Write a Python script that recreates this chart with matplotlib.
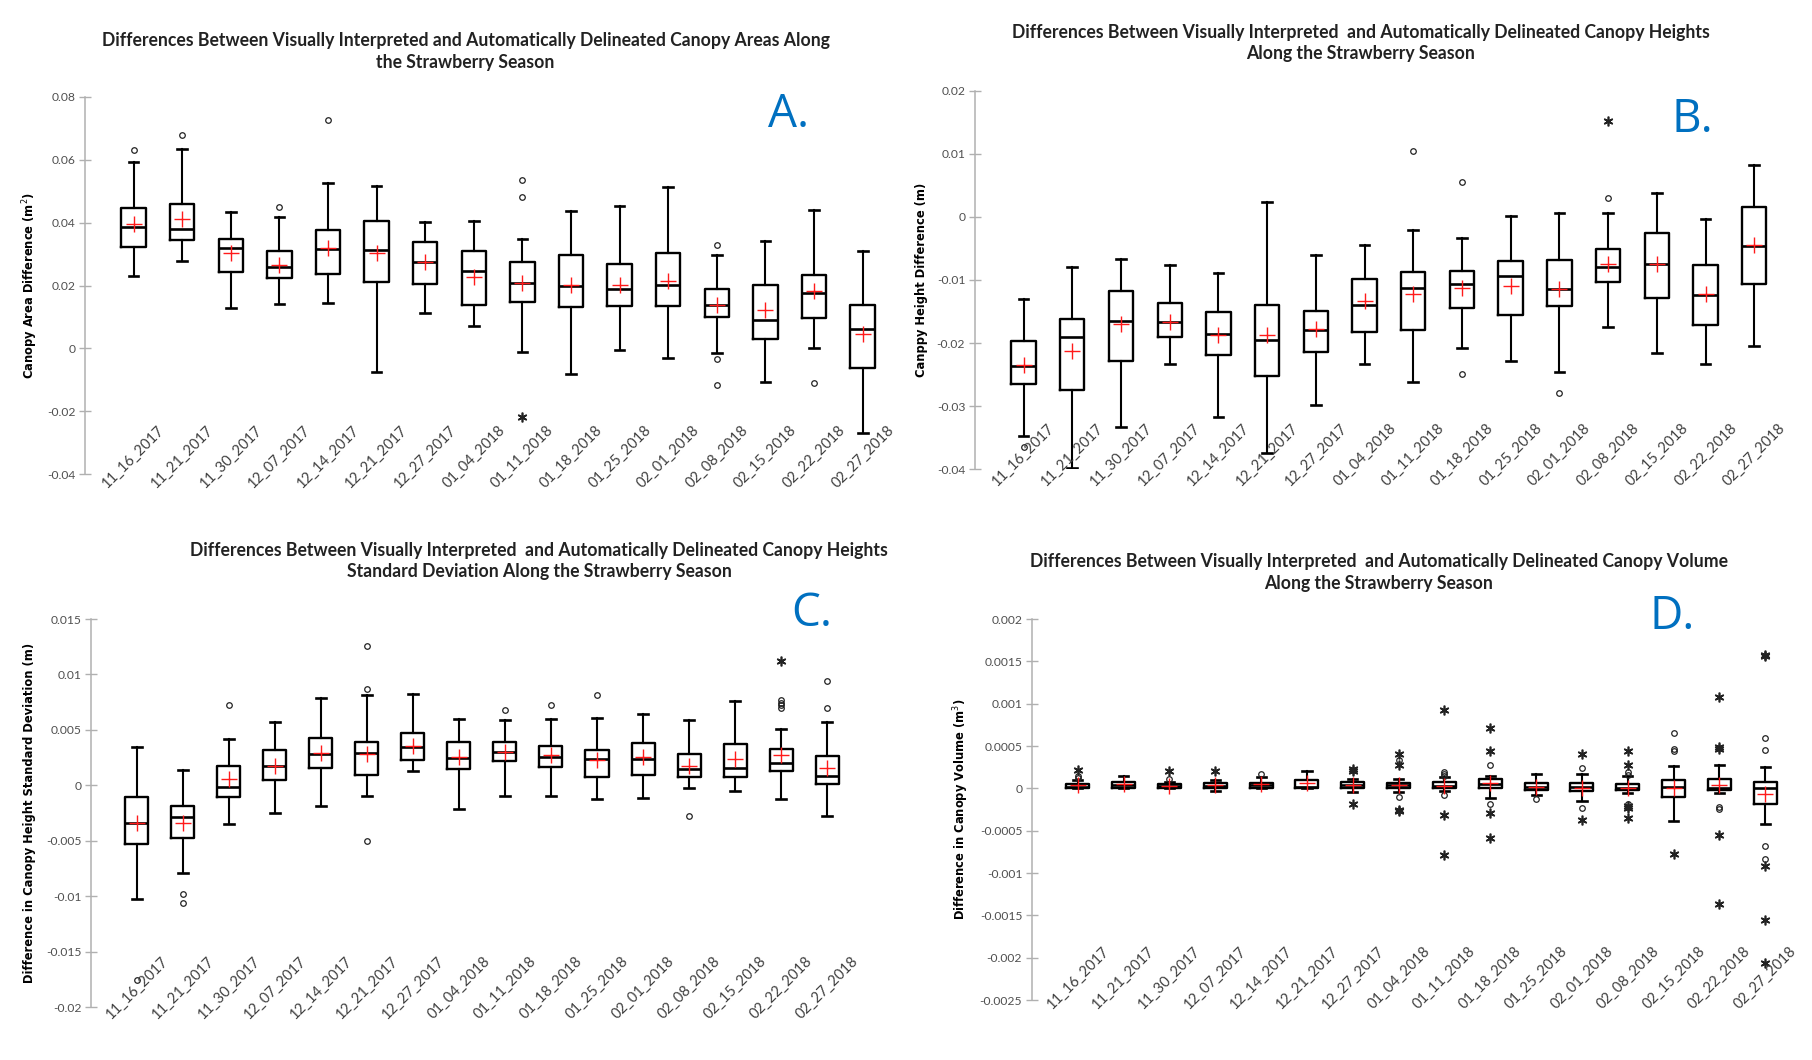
import matplotlib.pyplot as plt
import numpy as np

plt.rcParams['font.family'] = ['Lato', 'DejaVu Sans']

dates = ['11_16_2017', '11_21_2017', '11_30_2017', '12_07_2017', '12_14_2017',
         '12_21_2017', '12_27_2017', '01_04_2018', '01_11_2018', '01_18_2018',
         '01_25_2018', '02_01_2018', '02_08_2018', '02_15_2018', '02_22_2018',
         '02_27_2018']

# A. canopy area difference (m2)
a_low = [0.0230, 0.0278, 0.0128, 0.0141, 0.0143, -0.0074, 0.0113, 0.0071,
         -0.0011, -0.0081, -0.0005, -0.0031, -0.0014, -0.0106, 0.0001, -0.0269]
a_q1 = [0.0322, 0.0344, 0.0242, 0.0225, 0.0238, 0.0212, 0.0206, 0.0138,
        0.0148, 0.0131, 0.0135, 0.0135, 0.0100, 0.0030, 0.0098, -0.0063]
a_med = [0.0386, 0.0379, 0.0319, 0.0258, 0.0316, 0.0312, 0.0274, 0.0246,
         0.0207, 0.0197, 0.0188, 0.0202, 0.0138, 0.0091, 0.0177, 0.0061]
a_q3 = [0.0446, 0.0461, 0.0348, 0.0311, 0.0376, 0.0405, 0.0339, 0.0311,
        0.0274, 0.0296, 0.0268, 0.0303, 0.0188, 0.0201, 0.0233, 0.0138]
a_high = [0.0594, 0.0636, 0.0435, 0.0417, 0.0525, 0.0517, 0.0401, 0.0404,
          0.0348, 0.0438, 0.0453, 0.0514, 0.0297, 0.0342, 0.0440, 0.0311]
a_mean = [0.0397, 0.0412, 0.0302, 0.0266, 0.0320, 0.0302, 0.0274, 0.0227,
          0.0207, 0.0201, 0.0201, 0.0215, 0.0137, 0.0122, 0.0183, 0.0047]
a_out = [[0.0630], [0.0678], [], [0.0450], [0.0728], [], [], [],
         [0.0535, 0.0483], [], [], [], [0.0328, -0.0033, -0.0118], [], [-0.0111], []]
a_ext = [[], [], [], [], [], [], [], [], [-0.0218], [], [], [], [], [], [], []]

# B. canopy height difference (m)
b_low = [-0.0348, -0.0398, -0.0334, -0.0233, -0.0318, -0.0374, -0.0299, -0.0233,
         -0.0262, -0.0208, -0.0229, -0.0246, -0.0175, -0.0216, -0.0234, -0.0204]
b_q1 = [-0.0265, -0.0274, -0.0229, -0.0191, -0.0219, -0.0252, -0.0215, -0.0182,
        -0.0179, -0.0144, -0.0156, -0.0142, -0.0103, -0.0129, -0.0172, -0.0106]
b_med = [-0.0237, -0.0191, -0.0165, -0.0166, -0.0185, -0.0195, -0.0179, -0.0139,
         -0.0113, -0.0106, -0.0094, -0.0115, -0.0080, -0.0074, -0.0124, -0.0046]
b_q3 = [-0.0197, -0.0162, -0.0118, -0.0137, -0.0150, -0.0139, -0.0149, -0.0098,
        -0.0088, -0.0086, -0.0070, -0.0068, -0.0051, -0.0026, -0.0076, 0.0016]
b_high = [-0.0130, -0.0080, -0.0067, -0.0076, -0.0089, 0.0024, -0.0060, -0.0045,
          -0.0021, -0.0033, 0.0001, 0.0006, 0.0007, 0.0038, -0.0003, 0.0083]
b_mean = [-0.0235, -0.0212, -0.0170, -0.0166, -0.0188, -0.0188, -0.0177, -0.0134,
          -0.0122, -0.0112, -0.0110, -0.0114, -0.0074, -0.0075, -0.0123, -0.0045]
b_out = [[-0.0365], [], [], [], [], [], [], [], [0.0104], [0.0056, -0.0249], [],
         [-0.0279], [0.0030], [], [], []]
b_ext = [[], [], [], [], [], [], [], [], [], [], [], [], [0.0153], [], [], []]

# C. canopy height standard deviation difference (m)
c_low = [-0.01027, -0.00787, -0.00353, -0.00251, -0.00186, -0.00099, 0.00126, -0.00213,
         -0.00096, -0.00099, -0.00120, -0.00111, -0.00024, -0.00048, -0.00126, -0.00275]
c_q1 = [-0.00527, -0.00473, -0.00108, 0.00045, 0.00156, 0.00090, 0.00228, 0.00150,
        0.00216, 0.00165, 0.00078, 0.00096, 0.00072, 0.00072, 0.00126, 0.00015]
c_med = [-0.00344, -0.00284, -0.00015, 0.00177, 0.00284, 0.00293, 0.00347, 0.00246,
         0.00305, 0.00254, 0.00234, 0.00240, 0.00147, 0.00156, 0.00204, 0.00084]
c_q3 = [-0.00102, -0.00183, 0.00171, 0.00317, 0.00425, 0.00395, 0.00476, 0.00395,
        0.00395, 0.00356, 0.00317, 0.00386, 0.00284, 0.00371, 0.00326, 0.00263]
c_high = [0.00347, 0.00135, 0.00422, 0.00572, 0.00787, 0.00817, 0.00823, 0.00596,
          0.00587, 0.00602, 0.00608, 0.00641, 0.00587, 0.00763, 0.00509, 0.00572]
c_mean = [-0.00341, -0.00341, 0.00057, 0.00177, 0.00290, 0.00281, 0.00359, 0.00257,
          0.00305, 0.00275, 0.00230, 0.00257, 0.00177, 0.00237, 0.00272, 0.00159]
c_out = [[-0.0176], [-0.00985, -0.0106], [0.00722], [], [], [0.01254, 0.00865, -0.00503],
         [], [], [0.0068], [0.00722], [0.00811], [], [-0.00275], [],
         [0.00766, 0.0074, 0.0072, 0.00695], [0.00937, 0.00695]]
c_ext = [[], [], [], [], [], [], [], [], [], [], [], [], [], [], [0.0112], []]

# D. canopy volume difference (m3)
d_low = [0.0, 0.0, 0.00001, -0.00003, 0.0, 0.0, -0.00004, -0.00004,
         -0.00003, -0.00011, -0.00008, -0.00015, -0.00006, -0.00038, -0.00005, -0.00042]
d_q1 = [0.000005, 0.00001, 0.00001, 0.00001, 0.00001, 0.00001, 0.00001, 0.0,
        0.00001, 0.00001, -0.000015, -0.00003, -0.00002, -0.0001, -0.000015, -0.00018]
d_med = [0.00002, 0.000035, 0.00003, 0.00003, 0.00004, 0.000015, 0.000043, 0.000035,
         0.00003, 0.000055, 0.000015, 0.00002, 0.00001, 0.000015, 0.0, 0.0]
d_q3 = [0.00005, 0.00008, 0.00005, 0.00006, 0.000067, 0.0001, 0.000075, 0.000063,
        0.00007, 0.00011, 0.000065, 0.000065, 0.00005, 0.0001, 0.00011, 0.00007]
d_high = [0.0001, 0.00015, 0.00008, 0.0001, 0.00013, 0.00021, 0.00011, 0.00011,
          0.00014, 0.00015, 0.00017, 0.00017, 0.00015, 0.00026, 0.00027, 0.00025]
d_mean = [0.00004, 0.000055, 0.00003, 0.00004, 0.000055, 0.000063, 0.000043, 0.000035,
          0.00003, 0.00006, 0.000015, 0.00001, 0.00001, 0.00001, 0.000034, -0.00007]
d_out = [[0.00012, 0.00015], [], [0.00011], [], [0.00017], [], [], [0.00033, -0.0001],
         [0.00019, 0.00017, 0.00015, -0.00008], [0.00027, -0.00018], [-0.00013],
         [0.00024, -0.00023], [0.00019, 0.00016, -0.00018], [0.00065, 0.00046, 0.00044],
         [-0.00022, -0.00024], [0.0006, 0.00045, -0.00068, -0.00084]]
d_ext = [[0.00022], [], [0.0002], [0.0002], [], [], [0.00023, 0.0002, -0.00018],
         [0.0004, 0.00027, -0.00025, -0.00027], [0.00092, -0.00032, -0.00079],
         [0.00071, 0.00044, -0.00029, -0.00059], [], [0.0004, -0.00037],
         [0.00044, 0.00028, -0.00021, -0.00023, -0.00035], [-0.00077],
         [0.00108, 0.00049, 0.00047, -0.00055, -0.00137],
         [0.00158, 0.00156, -0.00092, -0.00155, -0.00206]]


def draw_panel(ax, low, q1, med, q3, high, mean, out, ext, yticks, ylabels,
               ylabel, ylab_x, xlab_y, title, title_xy, letter, letter_xy):
    pos = np.arange(1, len(dates) + 1)
    stats = []
    for i in range(len(dates)):
        stats.append({'whislo': low[i], 'q1': q1[i], 'med': med[i], 'q3': q3[i],
                      'whishi': high[i], 'mean': mean[i], 'fliers': []})
    ax.bxp(stats, positions=pos, widths=0.5, capwidths=0.2, showmeans=True,
           showfliers=False,
           boxprops=dict(color='black', linewidth=1.7),
           whiskerprops=dict(color='black', linewidth=1.5),
           capprops=dict(color='black', linewidth=1.9),
           medianprops=dict(color='black', linewidth=1.9),
           meanprops=dict(marker='+', markeredgecolor='#ff1a1a', markersize=12,
                          markeredgewidth=1.0))
    for i, p in enumerate(pos):
        if out[i]:
            ax.plot([p] * len(out[i]), out[i], 'o', ms=4, mfc='none', mec='#222222',
                    mew=0.9, clip_on=False)
        if ext[i]:
            ax.plot([p] * len(ext[i]), ext[i], marker=(6, 2, 0), ls='none', ms=7,
                    mec='#222222', mew=1.2, clip_on=False)

    ax.set_xlim(0, 17)
    ax.set_ylim(yticks[-1], yticks[0])
    ax.set_xticks([])
    ax.set_yticks(yticks)
    ax.set_yticklabels(ylabels)
    for s in ['top', 'right', 'bottom']:
        ax.spines[s].set_visible(False)
    ax.spines['left'].set_color('#b0b0b0')
    ax.spines['left'].set_linewidth(1.1)
    ax.tick_params(axis='y', direction='inout', length=8, width=1, color='#b0b0b0',
                   labelsize=8.7, labelcolor='#505050', pad=3)
    ax.set_ylabel(ylabel, fontsize=8.3, fontweight='bold', family='DejaVu Sans')
    ax.yaxis.set_label_coords(ylab_x, 0.5)
    for i, p in enumerate(pos):
        ax.text(p, xlab_y, dates[i], transform=ax.get_xaxis_transform(), rotation=45,
                ha='center', va='center', fontsize=10.5, color='#404040', clip_on=False)
    fig.text(title_xy[0], title_xy[1], title, ha='center', va='center', fontsize=12.7,
             fontweight='bold', color='#222222', linespacing=1.3)
    fig.text(letter_xy[0], letter_xy[1], letter, ha='center', va='center', fontsize=33,
             color='#0070c0', family=['Open Sans', 'DejaVu Sans'])


fig = plt.figure(figsize=(18.12, 10.60), dpi=100)
axA = fig.add_axes([0.0469, 0.5528, 0.456, 0.3557])
axB = fig.add_axes([0.538, 0.5575, 0.457, 0.3567])
axC = fig.add_axes([0.0502, 0.050, 0.4316, 0.366])
axD = fig.add_axes([0.5695, 0.0566, 0.430, 0.3594])

draw_panel(axA, a_low, a_q1, a_med, a_q3, a_high, a_mean, a_out, a_ext,
           [0.08, 0.06, 0.04, 0.02, 0, -0.02, -0.04],
           ['0.08', '0.06', '0.04', '0.02', '0', '-0.02', '-0.04'],
           'Canopy Area Difference (m$^2$)', -0.054, 0.045,
           'Differences Between Visually Interpreted and Automatically Delineated Canopy Areas Along\nthe Strawberry Season',
           (0.257, 0.9514), 'A.', (0.4354, 0.8915))

draw_panel(axB, b_low, b_q1, b_med, b_q3, b_high, b_mean, b_out, b_ext,
           [0.02, 0.01, 0, -0.01, -0.02, -0.03, -0.04],
           ['0.02', '0.01', '0', '-0.01', '-0.02', '-0.03', '-0.04'],
           'Canppy Height Difference (m)', -0.057, 0.037,
           'Differences Between Visually Interpreted  and Automatically Delineated Canopy Heights\nAlong the Strawberry Season',
           (0.751, 0.9594), 'B.', (0.9338, 0.8868))

draw_panel(axC, c_low, c_q1, c_med, c_q3, c_high, c_mean, c_out, c_ext,
           [0.015, 0.01, 0.005, 0, -0.005, -0.01, -0.015, -0.02],
           ['0.015', '0.01', '0.005', '0', '-0.005', '-0.01', '-0.015', '-0.02'],
           'Difference in Canopy Height Standard Deviation (m)', -0.07, 0.049,
           'Differences Between Visually Interpreted  and Automatically Delineated Canopy Heights\nStandard Deviation Along the Strawberry Season',
           (0.2975, 0.4708), 'C.', (0.448, 0.4208))

draw_panel(axD, d_low, d_q1, d_med, d_q3, d_high, d_mean, d_out, d_ext,
           [0.002, 0.0015, 0.001, 0.0005, 0, -0.0005, -0.001, -0.0015, -0.002, -0.0025],
           ['0.002', '0.0015', '0.001', '0.0005', '0', '-0.0005', '-0.001', '-0.0015',
            '-0.002', '-0.0025'],
           'Difference in Canopy Volume (m$^3$)', -0.078, 0.058,
           'Differences Between Visually Interpreted  and Automatically Delineated Canopy Volume\nAlong the Strawberry Season',
           (0.761, 0.46), 'D.', (0.9227, 0.418))

fig.savefig('out.png', dpi=100)
